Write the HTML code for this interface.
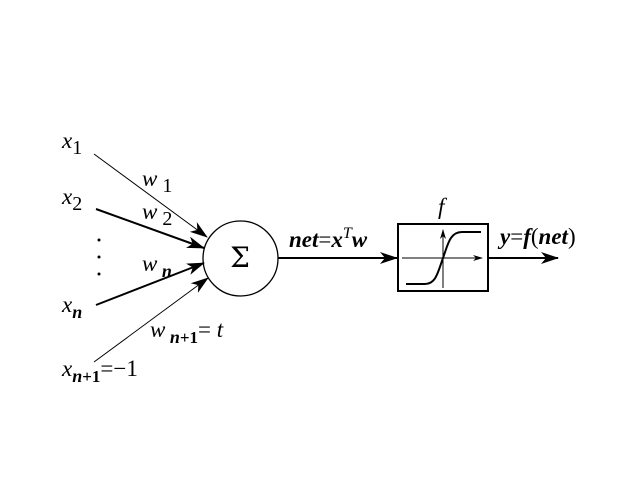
<!DOCTYPE html>
<html><head><style>html,body{margin:0;padding:0;background:#fff}</style></head>
<body>
<svg width="640" height="480" xmlns="http://www.w3.org/2000/svg" font-family="Liberation Serif, serif">
<defs>
<marker id="a" markerWidth="18" markerHeight="12" refX="17" refY="6" orient="auto" markerUnits="userSpaceOnUse">
<path d="M0,0 L18,6 L0,12 L5,6 Z" fill="#000"/></marker>
<marker id="b" markerWidth="10" markerHeight="6" refX="9" refY="3" orient="auto" markerUnits="userSpaceOnUse">
<path d="M0,0 L10,3 L0,6 L3,3 Z" fill="#000"/></marker>
</defs>
<g stroke="#000" fill="none">
<line x1="94" y1="154" x2="207" y2="237" stroke-width="1" marker-end="url(#a)"/>
<line x1="96" y1="209" x2="204" y2="248" stroke-width="2" marker-end="url(#a)"/>
<line x1="96" y1="305" x2="204" y2="263" stroke-width="2" marker-end="url(#a)"/>
<line x1="94" y1="362" x2="208" y2="278" stroke-width="1" marker-end="url(#a)"/>
<circle cx="240.5" cy="258.5" r="37.5" stroke-width="1.3"/>
<line x1="278" y1="258" x2="397" y2="258" stroke-width="2" marker-end="url(#a)"/>
<rect x="398" y="224" width="90" height="67" stroke-width="2"/>
<line x1="489" y1="258" x2="558" y2="258" stroke-width="2" marker-end="url(#a)"/>
<line x1="402" y1="258" x2="482" y2="258" stroke-width="1" marker-end="url(#b)"/>
<line x1="443" y1="288" x2="443" y2="230" stroke-width="1" marker-end="url(#b)"/>
<path d="M406,284 L425,284 C436,284 438,272 443,258 C448,244 450,232 462,232 L481,232" stroke-width="2"/>
</g>
<circle cx="99" cy="240" r="1.5"/><circle cx="99" cy="257" r="1.5"/><circle cx="99" cy="274" r="1.5"/>
<g font-style="italic" font-size="23">
<text x="62" y="148">x<tspan font-style="normal" font-size="20" dy="6">1</tspan></text>
<text x="62" y="204">x<tspan font-style="normal" font-size="20" dy="6">2</tspan></text>
<text x="62" y="312">x<tspan font-size="18" font-weight="bold" dy="6">n</tspan></text>
<text x="62" y="376">x<tspan font-size="18" font-weight="bold" dy="6">n</tspan><tspan font-style="normal" font-size="17" font-weight="bold">+1</tspan><tspan font-style="normal" dy="-6">=−1</tspan></text>
<text x="142" y="186">w<tspan font-style="normal" font-size="20" dy="6"> 1</tspan></text>
<text x="142" y="219">w<tspan font-style="normal" font-size="20" dy="6"> 2</tspan></text>
<text x="142" y="271">w<tspan font-size="18" font-weight="bold" dy="6"> n</tspan></text>
<text x="150" y="337">w<tspan font-size="18" font-weight="bold" dy="6"> n</tspan><tspan font-style="normal" font-size="17" font-weight="bold">+1</tspan><tspan font-style="normal" dy="-6">= </tspan>t</text>
<text x="289" y="247" font-weight="bold">net<tspan font-style="normal" font-weight="normal">=</tspan>x<tspan font-size="16" font-weight="normal" dy="-9">T</tspan><tspan dy="9">w</tspan></text>
<text x="438" y="214">f</text>
<text x="500" y="244" font-weight="bold">y<tspan font-style="normal" font-weight="normal">=</tspan>f<tspan font-style="normal" font-weight="normal">(</tspan>net<tspan font-style="normal" font-weight="normal">)</tspan></text>
</g>
<text x="240" y="267" font-size="28" font-family="DejaVu Serif, serif" text-anchor="middle">Σ</text>
</svg>
</body></html>
